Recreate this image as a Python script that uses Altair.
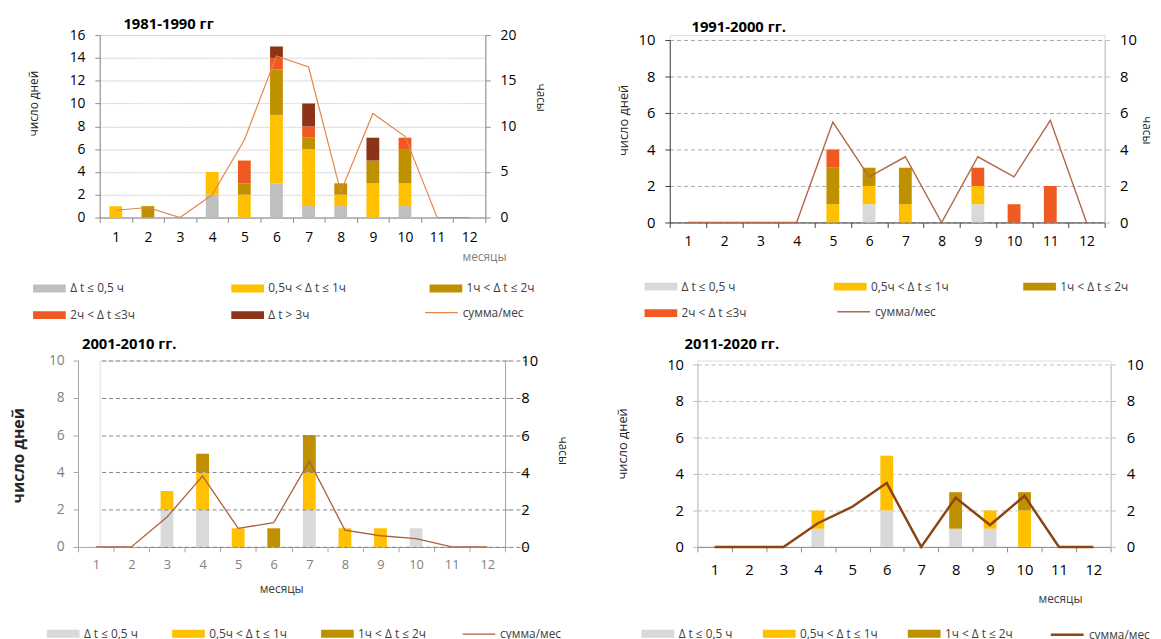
import altair as alt
import pandas as pd

FONT = "Open Sans"
months = list(range(1, 13))

c_gray = "Δ t ≤ 0,5 ч"
c_yel = "0,5ч < Δ t ≤ 1ч"
c_olv = "1ч < Δ t ≤ 2ч"
c_org = "2ч < Δ t ≤3ч"
c_brn = "Δ t > 3ч"
line_label = "сумма/мес"

# 1981-1990
p1_gray = [0, 0, 0, 2, 0, 3, 1, 1, 0, 1, 0, 0]
p1_yellow = [1, 0, 0, 2, 2, 6, 5, 1, 3, 2, 0, 0]
p1_olive = [0, 1, 0, 0, 1, 4, 1, 1, 2, 3, 0, 0]
p1_orange = [0, 0, 0, 0, 2, 1, 1, 0, 0, 1, 0, 0]
p1_brown = [0, 0, 0, 0, 0, 1, 2, 0, 2, 0, 0, 0]
p1_hours = [0.8, 1.1, 0, 2.5, 8.5, 17.7, 16.5, 2.8, 11.4, 8.9, 0, 0]

# 1991-2000
p2_gray = [0, 0, 0, 0, 0, 1, 0, 0, 1, 0, 0, 0]
p2_yellow = [0, 0, 0, 0, 1, 1, 1, 0, 1, 0, 0, 0]
p2_olive = [0, 0, 0, 0, 2, 1, 2, 0, 0, 0, 0, 0]
p2_orange = [0, 0, 0, 0, 1, 0, 0, 0, 1, 1, 2, 0]
p2_hours = [0, 0, 0, 0, 5.5, 2.5, 3.6, 0, 3.6, 2.5, 5.6, 0]

# 2001-2010
p3_gray = [0, 0, 2, 2, 0, 0, 2, 0, 0, 1, 0, 0]
p3_yellow = [0, 0, 1, 2, 1, 0, 2, 1, 1, 0, 0, 0]
p3_olive = [0, 0, 0, 1, 0, 1, 2, 0, 0, 0, 0, 0]
p3_hours = [0, 0, 1.6, 3.8, 1.0, 1.3, 4.6, 0.9, 0.6, 0.45, 0, 0]

# 2011-2020
p4_gray = [0, 0, 0, 1, 0, 2, 0, 1, 1, 0, 0, 0]
p4_yellow = [0, 0, 0, 1, 0, 3, 0, 0, 1, 2, 0, 0]
p4_olive = [0, 0, 0, 0, 0, 0, 0, 2, 0, 1, 0, 0]
p4_hours = [0, 0, 0, 1.3, 2.2, 3.5, 0, 2.7, 1.2, 2.8, 0, 0]

RECT = "M-1,-0.24H1V0.24H-1Z"


def panel(title, series, colors, hours, line_color, line_width, ymax, ystep, rmax, rstep, g):
    rows = []
    for ci, (cat, vals) in enumerate(series):
        for m, v in zip(months, vals):
            if v > 0:
                rows.append({"month": m, "cat": cat, "ord": ci, "days": v})
    bars_df = pd.DataFrame(rows)
    line_df = pd.DataFrame({"month": months, "hours": hours, "lbl": [line_label] * 12})
    domain = [c for c, _ in series]
    grid_right = g.get("gridright", False)

    xaxis_kw = dict(labelAngle=0, tickBand="extent", tickSize=5,
                    domainColor=g["xdomain"], tickColor=g["xdomain"],
                    labelFont=FONT, labelFontSize=g["xlabsize"],
                    labelColor=g["xlabcolor"], labelPadding=g["xlabpad"], grid=False)
    if g.get("xtitle"):
        xaxis_kw.update(title="месяцы", titleFont=FONT, titleFontSize=12,
                        titleFontWeight="normal", titleColor=g["xtitlecolor"],
                        titleX=g["xtitlex"], titleY=g["xtitley"],
                        titleAlign=g["xtitlealign"], titleBaseline="middle")
    else:
        xaxis_kw.update(title=None)

    x = alt.X("month:O",
              scale=alt.Scale(domain=months, paddingInner=0, paddingOuter=0, range=g["xrange"]),
              axis=alt.Axis(**xaxis_kw))

    grid_kw = dict(grid=True, gridColor=g["grid"], gridDash=g["griddash"], gridWidth=1)

    laxis_kw = dict(values=list(range(0, ymax + 1, ystep)), title="число дней",
                    titleFont=FONT, titleFontSize=g["ltitlesize"],
                    titleFontWeight=g["ltitleweight"], titleColor="#262626",
                    titleX=g["ltitlex"], titleY=g["ltitley"],
                    labelFont=FONT, labelFontSize=g["llabsize"],
                    labelColor=g["llabcolor"], labelPadding=g["llabpad"],
                    tickSize=5, tickColor=g["ldomain"], domainColor=g["ldomain"],
                    offset=g["loffset"])
    if grid_right:
        laxis_kw.update(grid=False)
    else:
        laxis_kw.update(**grid_kw)

    legend = alt.Legend(orient="none", legendX=g["legx"], legendY=g["legy"],
                        direction="horizontal", columns=g["legcols"], title=None,
                        symbolType=RECT, symbolSize=1100, symbolStrokeWidth=0,
                        symbolOpacity=1, labelFont=FONT, labelFontSize=12,
                        labelColor="#404040", labelLimit=300,
                        columnPadding=g["legcolpad"], rowPadding=g["legrowpad"],
                        gridAlign=g["leggrid"])

    bars = alt.Chart(bars_df).mark_bar(size=13).encode(
        x=x,
        y=alt.Y("days:Q", stack="zero",
                scale=alt.Scale(domain=[0, ymax], nice=False, range=g["yrange"]),
                axis=alt.Axis(**laxis_kw)),
        color=alt.Color("cat:N", scale=alt.Scale(domain=domain, range=colors), legend=legend),
        order=alt.Order("ord:Q", sort="ascending"),
    )

    raxis_kw = dict(values=list(range(0, rmax + 1, rstep)), orient="right",
                    labelFont=FONT, labelFontSize=g["rlabsize"], labelColor="#000000",
                    labelPadding=g["rlabpad"], tickSize=5,
                    tickColor=g["rdomain"], domainColor=g["rdomain"])
    if grid_right:
        raxis_kw.update(zindex=1, **grid_kw)
    else:
        raxis_kw.update(grid=False)
    if g.get("rtitle"):
        raxis_kw.update(title="часы", titleFont=FONT, titleFontSize=12,
                        titleFontWeight="normal", titleColor="#262626",
                        titleX=g["rtitlex"], titleY=g["rtitley"])
    else:
        raxis_kw.update(title=None)

    line_legend = alt.Legend(orient="none", legendX=g["lnx"], legendY=g["lny"],
                             title=None, symbolType="stroke", symbolSize=1100,
                             symbolStrokeWidth=line_width, labelFont=FONT, labelFontSize=12,
                             labelColor="#404040")

    line = alt.Chart(line_df).mark_line(strokeWidth=line_width).encode(
        x=alt.X("month:O"),
        y=alt.Y("hours:Q",
                scale=alt.Scale(domain=[0, rmax], nice=False, range=g["yrange"]),
                axis=alt.Axis(**raxis_kw)),
        stroke=alt.Stroke("lbl:N", scale=alt.Scale(domain=[line_label], range=[line_color]),
                          legend=line_legend),
    )

    return alt.layer(bars, line).resolve_scale(y="independent").properties(
        width=g["w"], height=g["h"],
        title=alt.TitleParams(text=title, anchor="start", frame="group", dx=g["tdx"],
                              offset=g["toff"], fontSize=15, fontWeight="bold",
                              font=FONT, color="#000000"),
    )


COL_GRAY1 = "#bfbfbf"
COL_GRAY = "#d9d9d9"
COL_YEL = "#ffc000"
COL_OLV = "#bf9000"
COL_ORG = "#f05a22"
COL_BRN = "#8c3418"

g1 = dict(w=391, h=185, xrange=[0, 391], yrange=[185, 0], loffset=0,
          xdomain="#8c8c8c", xlabsize=14, xlabcolor="#000000", xlabpad=8, xtitle=True,
          xtitlecolor="#7f7f7f", xtitlex=412, xtitley=40, xtitlealign="right",
          ltitlesize=12, ltitleweight="normal", ltitlex=-60, ltitley=69,
          llabsize=14, llabcolor="#000000", llabpad=10, ldomain="#8c8c8c",
          grid="#d9d9d9", griddash=[1, 0],
          rlabsize=14, rlabpad=10, rdomain="#8c8c8c", rtitle=True, rtitlex=49, rtitley=63,
          legx=-68, legy=240, legcols=3, legcolpad=84, legrowpad=4, leggrid="all",
          lnx=329, lny=264, tdx=24, toff=-4)
g2 = dict(w=441, h=190, xrange=[0, 441], yrange=[190, 5], loffset=0,
          xdomain="#404040", xlabsize=14, xlabcolor="#000000", xlabpad=7, xtitle=False,
          ltitlesize=13, ltitleweight="normal", ltitlex=-40, ltitley=86,
          llabsize=15, llabcolor="#000000", llabpad=10, ldomain="#404040",
          grid="#a6a6a6", griddash=[4, 3],
          rlabsize=15, rlabpad=10, rdomain="#bfbfbf", rtitle=True, rtitlex=35, rtitley=96,
          legx=-26, legy=238, legcols=3, legcolpad=75, legrowpad=4, leggrid="all",
          lnx=169, lny=263, tdx=22, toff=-2)
g3 = dict(w=411, h=189, xrange=[-22, 411], yrange=[189, 0], loffset=22, gridright=True,
          xdomain="#a6a6a6", xlabsize=13, xlabcolor="#7f7f7f", xlabpad=7, xtitle=True,
          xtitlecolor="#404040", xtitlex=184, xtitley=42, xtitlealign="center",
          ltitlesize=16, ltitleweight="bold", ltitlex=-52, ltitley=96,
          llabsize=14, llabcolor="#7f7f7f", llabpad=9, ldomain="#a6a6a6",
          grid="#808080", griddash=[4, 3],
          rlabsize=15, rlabpad=11, rdomain="#a6a6a6", rtitle=True, rtitlex=51, rtitley=91,
          legx=-54, legy=260, legcols=4, legcolpad=34, legrowpad=6, leggrid="each",
          lnx=367, lny=260, tdx=-18, toff=2)
g4 = dict(w=419, h=189, xrange=[0, 419], yrange=[189, 4], loffset=0,
          xdomain="#8c8c8c", xlabsize=15, xlabcolor="#000000", xlabpad=11, xtitle=True,
          xtitlecolor="#404040", xtitlex=390, xtitley=52, xtitlealign="right",
          ltitlesize=13, ltitleweight="normal", ltitlex=-69, ltitley=84,
          llabsize=15, llabcolor="#000000", llabpad=9, ldomain="#bfbfbf",
          grid="#bfbfbf", griddash=[4, 3],
          rlabsize=15, rlabpad=11, rdomain="#bfbfbf", rtitle=False,
          legx=-57, legy=260, legcols=4, legcolpad=30, legrowpad=6, leggrid="each",
          lnx=357, lny=260, tdx=-13, toff=6)

ch1 = panel("1981-1990 гг",
            [(c_gray, p1_gray), (c_yel, p1_yellow), (c_olv, p1_olive), (c_org, p1_orange), (c_brn, p1_brown)],
            [COL_GRAY1, COL_YEL, COL_OLV, COL_ORG, COL_BRN], p1_hours, "#e2864e", 1.2,
            16, 2, 20, 5, g1)
ch2 = panel("1991-2000 гг.",
            [(c_gray, p2_gray), (c_yel, p2_yellow), (c_olv, p2_olive), (c_org, p2_orange)],
            [COL_GRAY, COL_YEL, COL_OLV, COL_ORG], p2_hours, "#b0674a", 1.4,
            10, 2, 10, 2, g2)
ch3 = panel("2001-2010 гг.",
            [(c_gray, p3_gray), (c_yel, p3_yellow), (c_olv, p3_olive)],
            [COL_GRAY, COL_YEL, COL_OLV], p3_hours, "#a8623f", 1.3,
            10, 2, 10, 2, g3)
ch4 = panel("2011-2020 гг.",
            [(c_gray, p4_gray), (c_yel, p4_yellow), (c_olv, p4_olive)],
            [COL_GRAY, COL_YEL, COL_OLV], p4_hours, "#8b4513", 2.5,
            10, 2, 10, 2, g4)


def indep(c):
    return c.resolve_scale(color="independent", stroke="independent").resolve_legend(
        color="independent", stroke="independent")


top = indep(alt.hconcat(ch1, ch2, spacing=70))
bottom = indep(alt.hconcat(ch3, ch4, spacing=47))
chart = indep(alt.vconcat(top, bottom, spacing=14)).properties(
    padding={"left": 2, "top": 4, "right": 0, "bottom": 0}).configure_view(
    stroke=None).configure(font=FONT)

chart.save("out.html", embed_options={"renderer": "svg", "actions": False})
